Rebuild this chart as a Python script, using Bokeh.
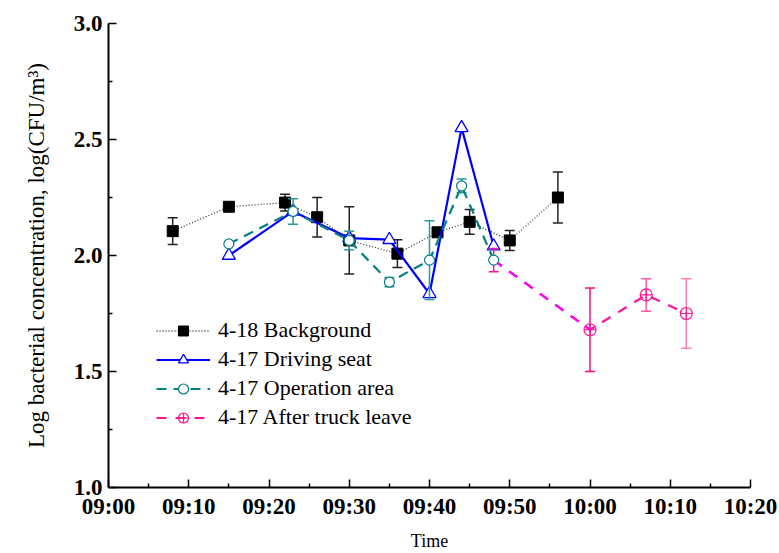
from bokeh.plotting import figure
from bokeh.models import Range1d, FixedTicker, Legend, LegendItem
from bokeh.embed import file_html
from bokeh.resources import INLINE

# ---- data -------------------------------------------------------------
bg_time = ["09:08", "09:15", "09:22", "09:26", "09:30", "09:36", "09:41", "09:45", "09:50", "09:56"]
bg_val = [2.105, 2.21, 2.228, 2.165, 2.065, 2.008, 2.10, 2.145, 2.065, 2.25]
bg_err = [0.058, 0.015, 0.036, 0.085, 0.145, 0.06, 0.0, 0.053, 0.043, 0.11]

seat_time = ["09:15", "09:23", "09:30", "09:35", "09:40", "09:44", "09:48"]
seat_val = [2.00, 2.19, 2.075, 2.068, 1.835, 2.55, 2.04]

op_time = ["09:15", "09:23", "09:30", "09:35", "09:40", "09:44", "09:48"]
op_val = [2.05, 2.19, 2.065, 1.885, 1.98, 2.30, 1.98]
op_err = [0.0, 0.055, 0.04, 0.02, 0.17, 0.03, 0.0]

after_time = ["09:48", "10:00", "10:07", "10:12"]
after_val = [1.98, 1.68, 1.83, 1.75]
after_err = [0.05, 0.18, 0.07, 0.15]

time_ticks = ["09:00", "09:10", "09:20", "09:30", "09:40", "09:50", "10:00", "10:10", "10:20"]
value_ticks = [1.0, 1.5, 2.0, 2.5, 3.0]


def to_min(t):
    h, m = t.split(":")
    return (int(h) - 9) * 60 + int(m)


FONT = "Liberation Serif"

p = figure(width=779, height=553, output_backend="svg", toolbar_location=None,
           x_range=Range1d(0, 80), y_range=Range1d(1.0, 3.0),
           min_border_left=108, min_border_right=29, min_border_top=23, min_border_bottom=66)
p.outline_line_color = None
p.grid.visible = False
p.background_fill_color = "white"

# ---- axes -------------------------------------------------------------
xt = [to_min(t) for t in time_ticks]
p.xaxis.ticker = FixedTicker(ticks=xt, minor_ticks=[v + 5 for v in xt[:-1]])
p.xaxis.major_label_overrides = {v: t for v, t in zip(xt, time_ticks)}
p.yaxis.ticker = FixedTicker(ticks=value_ticks, minor_ticks=[v + 0.25 for v in value_ticks[:-1]])
p.yaxis.major_label_overrides = {v: f"{v:.1f}" for v in value_ticks}

for ax in (p.xaxis[0], p.yaxis[0]):
    ax.axis_line_width = 2
    ax.axis_line_color = "black"
    ax.major_tick_in = 8
    ax.major_tick_out = 0
    ax.minor_tick_in = 4
    ax.minor_tick_out = 0
    ax.major_tick_line_width = 1.5
    ax.minor_tick_line_width = 1.5
    ax.major_label_text_font = FONT
    ax.major_label_text_font_style = "bold"
    ax.major_label_text_font_size = "23px"
    ax.major_label_text_color = "black"
    ax.axis_label_text_font = FONT
    ax.axis_label_text_font_style = "normal"
    ax.axis_label_text_color = "black"

p.xaxis.axis_label = "Time"
p.xaxis.axis_label_text_font_size = "18px"
p.xaxis.major_label_standoff = 6
p.xaxis.axis_label_standoff = 9
p.yaxis.axis_label = "Log bacterial concentration, log(CFU/m³)"
p.yaxis.axis_label_text_font_size = "23px"
p.yaxis.major_label_standoff = 6
p.yaxis.axis_label_standoff = 22


def errorbars(times, vals, errs, colors):
    xs, lo, hi, cs = [], [], [], []
    for t, v, e, c in zip(times, vals, errs, colors):
        if e > 0:
            xs.append(to_min(t)); lo.append(v - e); hi.append(v + e); cs.append(c)
    p.segment(x0=xs, y0=lo, x1=xs, y1=hi, line_color=cs, line_width=1.5)
    p.scatter(x=xs + xs, y=lo + hi, marker="dash", size=10, line_color=cs + cs, line_width=1.5)


# ---- 4-18 background --------------------------------------------------
bx = [to_min(t) for t in bg_time]
errorbars(bg_time, bg_val, bg_err, ["#222222"] * len(bg_time))
bg_line = p.line(bx, bg_val, line_color="#333333", line_width=1.3, line_dash="1 2")
bg_mark = p.scatter(bx, bg_val, marker="square", size=11, fill_color="black", line_color="black")

# ---- 4-17 driving seat ------------------------------------------------
sx = [to_min(t) for t in seat_time]
seat_line = p.line(sx, seat_val, line_color="#0000FF", line_width=2.2)
seat_mark = p.scatter(sx, seat_val, marker="triangle", size=13, fill_color="white",
                      line_color="#0000FF", line_width=1.3)

# ---- 4-17 after truck leave -------------------------------------------
ax_ = [to_min(t) for t in after_time]
errorbars(after_time, after_val, after_err, ["#FF1493", "#FF0A80", "#FF5AA5", "#FF80B8"])
after_line = p.line(ax_, after_val, line_color="#FF1493", line_width=2.2, line_dash="10 9")
# the first leg, just after the truck has gone, is drawn in magenta
p.line(ax_[:2], after_val[:2], line_color="#FF00FF", line_width=2.2, line_dash="10 9")
after_mark = p.scatter(ax_[1:], after_val[1:], marker="circle_cross", size=12,
                       fill_color=None, line_color="#FF1493", line_width=1.2)

# ---- 4-17 operation area ----------------------------------------------
ox = [to_min(t) for t in op_time]
errorbars(op_time, op_val, op_err, ["#2A9A9A"] * len(op_time))
op_line = p.line(ox, op_val, line_color="#008080", line_width=2.2, line_dash="10 7")
op_mark = p.scatter(ox, op_val, marker="circle", size=10, fill_color="white",
                    line_color="#008080", line_width=1.2)

# ---- legend -------------------------------------------------------------
legend = Legend(items=[
    LegendItem(label="4-18 Background", renderers=[bg_line, bg_mark]),
    LegendItem(label="4-17 Driving seat", renderers=[seat_line, seat_mark]),
    LegendItem(label="4-17 Operation area", renderers=[op_line, op_mark]),
    LegendItem(label="4-17 After truck leave", renderers=[after_line, after_mark]),
], location=(48, 57))
legend.padding = 0
legend.margin = 0
legend.spacing = 3
legend.glyph_width = 54
legend.glyph_height = 25
legend.label_height = 25
legend.label_standoff = 8
legend.label_text_font = FONT
legend.label_text_font_size = "22px"
legend.label_text_color = "black"
legend.background_fill_alpha = 0
legend.border_line_color = None
p.add_layout(legend, "center")

open("out.html", "w").write(file_html(p, INLINE))
